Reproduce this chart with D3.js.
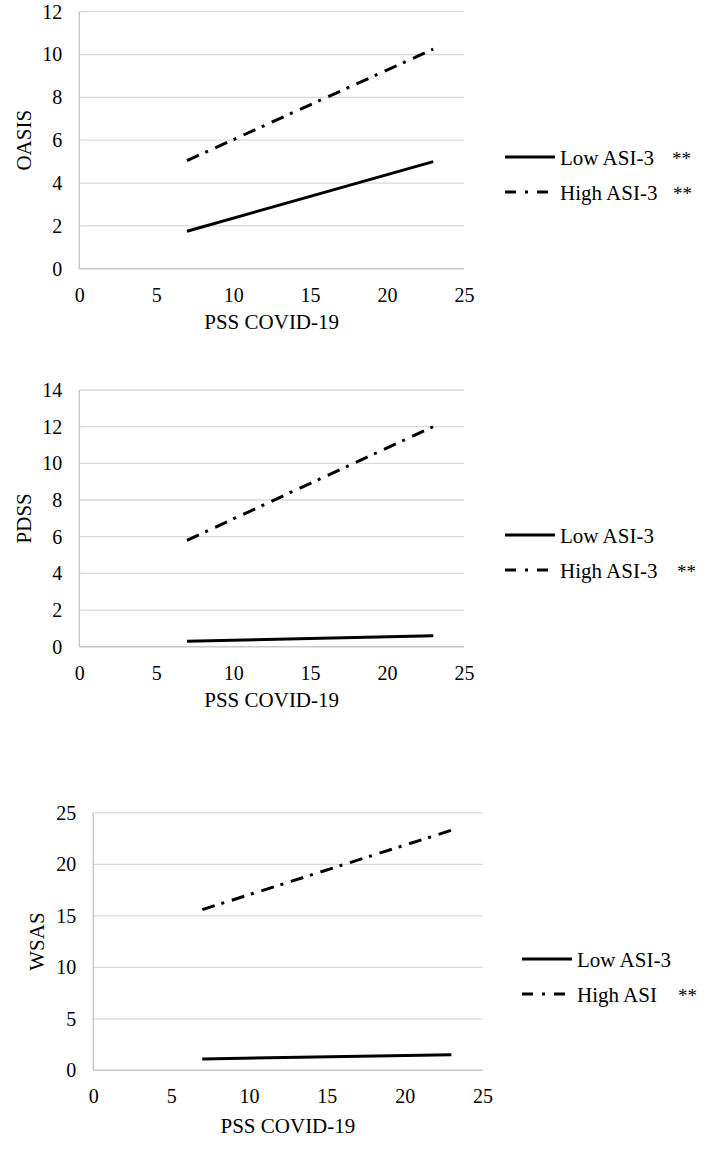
<!DOCTYPE html>
<html>
<head>
<meta charset="utf-8">
<script src="https://cdn.jsdelivr.net/npm/d3@7"></script>
<style>
  body { margin: 0; background: #fff; }
  svg text { font-family: "Liberation Serif", "Times New Roman", serif; fill: #000; }
</style>
</head>
<body>
<div id="chart-area"></div>
<script>
// data
var pssValues = [7, 23];
var xTicks = [0, 5, 10, 15, 20, 25];

var oasisLow = [1.75, 5.0];
var oasisHigh = [5.05, 10.25];
var oasisTicks = [0, 2, 4, 6, 8, 10, 12];

var pdssLow = [0.3, 0.6];
var pdssHigh = [5.8, 12.0];
var pdssTicks = [0, 2, 4, 6, 8, 10, 12, 14];

var wsasLow = [1.1, 1.5];
var wsasHigh = [15.6, 23.3];
var wsasTicks = [0, 5, 10, 15, 20, 25];

var oasisLegend = ['Low ASI-3', 'High ASI-3'];
var oasisStars = ['**', '**'];
var pdssLegend = ['Low ASI-3', 'High ASI-3'];
var pdssStars = ['', '**'];
var wsasLegend = ['Low ASI-3', 'High ASI'];
var wsasStars = ['', '**'];

var width = 715, height = 1161;

var svg = d3.select('#chart-area')
  .append('svg')
  .attr('width', width)
  .attr('height', height);

var dashStyle = '13,7,3,8';

var draw_panel = function(cfg) {
  var x = d3.scaleLinear().domain([0, 25]).range([cfg.left, cfg.right]);
  var y = d3.scaleLinear().domain([0, cfg.yTicks[cfg.yTicks.length - 1]]).range([cfg.bottom, cfg.top]);

  var g = svg.append('g').attr('class', 'panel');

  // gridlines
  g.selectAll('line.grid')
    .data(cfg.yTicks.slice(1))
    .enter()
    .append('line')
    .attr('class', 'grid')
    .attr('x1', cfg.left)
    .attr('x2', cfg.right)
    .attr('y1', d => y(d))
    .attr('y2', d => y(d))
    .style('stroke', '#d9d9d9')
    .style('stroke-width', 1.3);

  // axis lines
  g.append('line')
    .attr('x1', cfg.left).attr('x2', cfg.right)
    .attr('y1', y(0)).attr('y2', y(0))
    .style('stroke', '#c8c8c8').style('stroke-width', 1.5);
  g.append('line')
    .attr('x1', x(0)).attr('x2', x(0))
    .attr('y1', y(0)).attr('y2', cfg.top)
    .style('stroke', '#c8c8c8').style('stroke-width', 1.5);

  var yAxis = g.append('g')
    .attr('transform', 'translate(' + cfg.left + ',0)')
    .call(d3.axisLeft(y).tickValues(cfg.yTicks).tickSize(0).tickPadding(17).tickFormat(d3.format('d')));
  yAxis.select('.domain').remove();
  yAxis.selectAll('text').style('font-size', '20px');

  var xAxis = g.append('g')
    .attr('transform', 'translate(0,' + cfg.bottom + ')')
    .call(d3.axisBottom(x).tickValues(xTicks).tickSize(0).tickPadding(19).tickFormat(d3.format('d')));
  xAxis.select('.domain').remove();
  xAxis.selectAll('text').style('font-size', '20px');

  // titles
  g.append('text')
    .attr('x', (cfg.left + cfg.right) / 2)
    .attr('y', cfg.bottom + cfg.xTitleOffset)
    .attr('text-anchor', 'middle')
    .attr('dy', '0.35em')
    .style('font-size', '21px')
    .text('PSS COVID-19');

  g.append('text')
    .attr('transform', 'translate(' + cfg.yTitleX + ',' + (cfg.top + cfg.bottom) / 2 + ') rotate(-90)')
    .attr('text-anchor', 'middle')
    .attr('dy', '0.35em')
    .style('font-size', '21px')
    .text(cfg.yTitle);

  // lines
  var line = d3.line()
    .x(d => x(d[0]))
    .y(d => y(d[1]));

  var series = [
    { values: d3.zip(pssValues, cfg.low), dash: null },
    { values: d3.zip(pssValues, cfg.high), dash: dashStyle }
  ];

  g.selectAll('path.series')
    .data(series)
    .enter()
    .append('path')
    .attr('class', 'series')
    .attr('d', d => line(d.values))
    .style('fill', 'none')
    .style('stroke', '#000')
    .style('stroke-width', 3)
    .style('stroke-dasharray', d => d.dash);

  // legend
  var leg = g.selectAll('g.legend')
    .data(cfg.legend)
    .enter()
    .append('g')
    .attr('class', 'legend')
    .attr('transform', (d, i) => 'translate(' + cfg.legendX + ',' + (cfg.legendY + i * 35) + ')');

  leg.append('line')
    .attr('x1', 0).attr('x2', 50)
    .attr('y1', 0).attr('y2', 0)
    .style('stroke', '#000')
    .style('stroke-width', 3)
    .style('stroke-dasharray', (d, i) => i === 1 ? '11,9,3,9' : null);

  leg.append('text')
    .attr('x', 55)
    .attr('dy', '0.4em')
    .style('font-size', '21px')
    .text(d => d);

  leg.append('text')
    .attr('x', (d, i) => cfg.starX[i] - cfg.legendX)
    .attr('dy', '0.42em')
    .style('font-size', '19px')
    .text((d, i) => cfg.stars[i]);
};

draw_panel({
  left: 79.3, right: 464, top: 11.7, bottom: 268.7,
  yTicks: oasisTicks, low: oasisLow, high: oasisHigh,
  yTitle: 'OASIS', yTitleX: 24, xTitleOffset: 53,
  legend: oasisLegend, stars: oasisStars,
  legendX: 505, legendY: 157, starX: [672, 673]
});

draw_panel({
  left: 79.3, right: 464, top: 390, bottom: 646.7,
  yTicks: pdssTicks, low: pdssLow, high: pdssHigh,
  yTitle: 'PDSS', yTitleX: 24, xTitleOffset: 53,
  legend: pdssLegend, stars: pdssStars,
  legendX: 505, legendY: 535, starX: [677, 677]
});

draw_panel({
  left: 93.3, right: 482.5, top: 812.8, bottom: 1070.3,
  yTicks: wsasTicks, low: wsasLow, high: wsasHigh,
  yTitle: 'WSAS', yTitleX: 37, xTitleOffset: 55,
  legend: wsasLegend, stars: wsasStars,
  legendX: 522, legendY: 959, starX: [678, 678]
});
</script>
</body>
</html>
